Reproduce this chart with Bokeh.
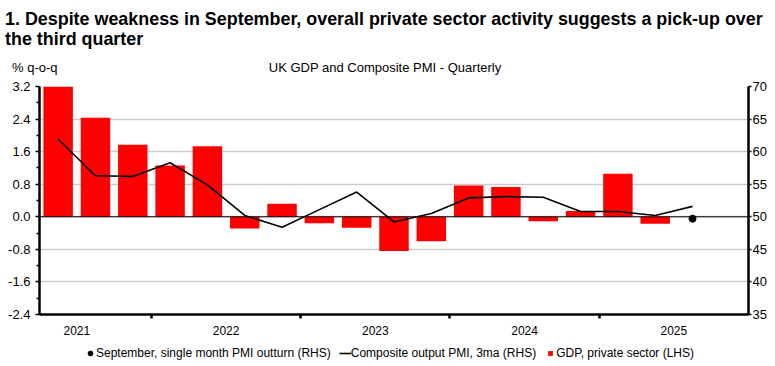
import numpy as np
from bokeh.plotting import figure
from bokeh.layouts import column
from bokeh.models import (Range1d, LinearAxis, FixedTicker, Span, Legend, Div,
                          LegendItem, ColumnDataSource, PrintfTickFormatter)
from bokeh.embed import file_html
from bokeh.resources import INLINE

# ---------------- data ----------------
quarters = ["2021Q2", "2021Q3", "2021Q4",
            "2022Q1", "2022Q2", "2022Q3", "2022Q4",
            "2023Q1", "2023Q2", "2023Q3", "2023Q4",
            "2024Q1", "2024Q2", "2024Q3", "2024Q4",
            "2025Q1", "2025Q2", "2025Q3", "2025Q4"]
gdp_private = [3.2, 2.43, 1.77, 1.26, 1.73, -0.29, 0.32, -0.16, -0.27, -0.84,
               -0.60, 0.77, 0.73, -0.11, 0.14, 1.06, -0.17]
pmi_3ma = [61.9, 56.3, 56.2, 58.3, 54.9, 50.2, 48.4, 51.1, 53.8, 49.2,
           50.5, 52.9, 53.1, 53.0, 50.8, 50.8, 50.2, 51.6]
sept_quarter = "2025Q3"
sept_pmi = 49.7
year_labels = ["2021", "2022", "2023", "2024", "2025"]
lhs_ticks = [-2.4, -1.6, -0.8, 0.0, 0.8, 1.6, 2.4, 3.2]
rhs_ticks = [35, 40, 45, 50, 55, 60, 65, 70]

title_1 = "1. Despite weakness in September, overall private sector activity suggests a pick-up over"
title_2 = "the third quarter"
subtitle = "UK GDP and Composite PMI - Quarterly"
lhs_unit = "% q-o-q"
legend_labels = ["September, single month PMI outturn (RHS)",
                 "Composite output PMI, 3ma (RHS)",
                 "GDP, private sector (LHS)"]

# ---------------- derived positions ----------------
xpos = {q: i + 1 for i, q in enumerate(quarters)}
x_all = np.array([xpos[q] for q in quarters], dtype=float)
bar_src = ColumnDataSource(dict(x=x_all[:len(gdp_private)], top=gdp_private))
line_src = ColumnDataSource(dict(x=x_all[:len(pmi_3ma)], y=pmi_3ma))
dot_src = ColumnDataSource(dict(x=[xpos[sept_quarter]], y=[sept_pmi]))

year_centres, year_bounds = [], []
for yi, yr in enumerate(year_labels):
    q1 = xpos[yr + "Q4"] - 3
    year_centres.append(q1 + 1.5)
    if yi > 0:
        year_bounds.append(q1 - 0.5)

FONT = "Liberation Sans"
W = 775

# ---------------- header (title, unit, subtitle) ----------------
header_html = f"""
<div style="position:relative;width:{W}px;height:78px;font-family:'{FONT}';color:black;">
  <div style="position:absolute;left:5px;top:9px;font-size:17.9px;font-weight:bold;line-height:20px;white-space:nowrap;">{title_1}<br>{title_2}</div>
  <div style="position:absolute;left:12px;top:60px;font-size:13px;line-height:15px;white-space:nowrap;">{lhs_unit}</div>
  <div style="position:absolute;left:0px;width:770px;top:60px;font-size:13px;line-height:15px;text-align:center;white-space:nowrap;">{subtitle}</div>
</div>
"""
header = Div(text=header_html, width=W, height=78, margin=0)

# ---------------- main chart ----------------
p = figure(width=W, height=264, output_backend="svg", toolbar_location=None,
           x_range=Range1d(0.5, len(quarters) + 0.5), y_range=Range1d(-2.4, 3.2),
           min_border_left=39, min_border_right=27, min_border_top=8,
           min_border_bottom=28)
p.title.visible = False
p.outline_line_color = None
p.background_fill_color = "white"
p.border_fill_color = "white"

p.xgrid.visible = False
p.ygrid.ticker = FixedTicker(ticks=lhs_ticks)
p.ygrid.grid_line_color = "#cccccc"
p.ygrid.grid_line_width = 1.5

ya = p.yaxis[0]
ya.ticker = FixedTicker(ticks=lhs_ticks, minor_ticks=[t + 0.4 for t in lhs_ticks[:-1]])
ya.formatter = PrintfTickFormatter(format="%.1f")
ya.axis_line_width = 2.5
ya.axis_line_color = "black"
ya.major_tick_out = 4
ya.major_tick_in = 0
ya.minor_tick_out = 3
ya.minor_tick_in = 0
ya.major_tick_line_width = 1.5
ya.minor_tick_line_width = 1.5
ya.major_label_standoff = 5
ya.major_label_text_font = FONT
ya.major_label_text_font_size = "13px"
ya.major_label_text_color = "black"

p.extra_y_ranges = {"pmi": Range1d(35, 70)}
ra = LinearAxis(y_range_name="pmi", ticker=FixedTicker(ticks=rhs_ticks, minor_ticks=[]))
ra.axis_line_width = 2.5
ra.major_tick_out = 3
ra.major_tick_in = 0
ra.major_tick_line_width = 1.5
ra.major_label_standoff = 1
ra.major_label_text_font = FONT
ra.major_label_text_font_size = "13px"
ra.major_label_text_color = "black"
p.add_layout(ra, "right")

xa = p.xaxis[0]
xa.ticker = FixedTicker(ticks=year_centres, minor_ticks=year_bounds)
xa.major_label_overrides = {c: y for c, y in zip(year_centres, year_labels)}
xa.axis_line_width = 2.5
xa.major_tick_out = 0
xa.major_tick_in = 0
xa.minor_tick_out = 4
xa.minor_tick_in = 0
xa.minor_tick_line_width = 2.5
xa.major_label_standoff = 7
xa.major_label_text_font = FONT
xa.major_label_text_font_size = "12px"
xa.major_label_text_color = "black"

p.add_layout(Span(location=0, dimension="width", line_color="black", line_width=1))

BAR_STYLE = dict(fill_color="#ff0000", line_color=None)
LINE_STYLE = dict(line_color="black", line_width=1.6)
DOT_STYLE = dict(marker="circle", fill_color="black", line_color="black")

p.vbar(x="x", top="top", bottom=0, width=0.79, source=bar_src, **BAR_STYLE)
p.line(x="x", y="y", source=line_src, y_range_name="pmi", **LINE_STYLE)
p.scatter(x="x", y="y", source=dot_src, y_range_name="pmi", size=7, **DOT_STYLE)

# ---------------- legend strip ----------------
lg = figure(width=W, height=24, output_backend="svg", toolbar_location=None,
            x_axis_type=None, y_axis_type=None, min_border=0,
            x_range=Range1d(0, 1), y_range=Range1d(0, 1))
lg.title.visible = False
lg.outline_line_color = None
lg.grid.visible = False
k_dot = lg.scatter(x="x", y="y", source=dot_src, size=7, visible=False, **DOT_STYLE)
k_line = lg.line(x="x", y="y", source=line_src, visible=False, **LINE_STYLE)
k_bar = lg.scatter(x="x", y="top", source=bar_src, marker="square", size=5,
                   visible=False, **BAR_STYLE)
legend = Legend(items=[LegendItem(label=l, renderers=[r])
                       for l, r in zip(legend_labels, [k_dot, k_line, k_bar])],
                orientation="horizontal", location=(45, 6))
legend.label_text_font = FONT
legend.label_text_font_size = "12px"
legend.label_text_color = "black"
legend.glyph_width = 12
legend.glyph_height = 12
legend.label_height = 12
legend.label_standoff = 0
legend.spacing = 8
legend.padding = 0
legend.margin = 0
legend.border_line_color = None
legend.background_fill_alpha = 0
legend.inactive_fill_alpha = 0
lg.add_layout(legend)

layout = column(header, p, lg, spacing=0)
open("out.html", "w").write(file_html(layout, INLINE))
